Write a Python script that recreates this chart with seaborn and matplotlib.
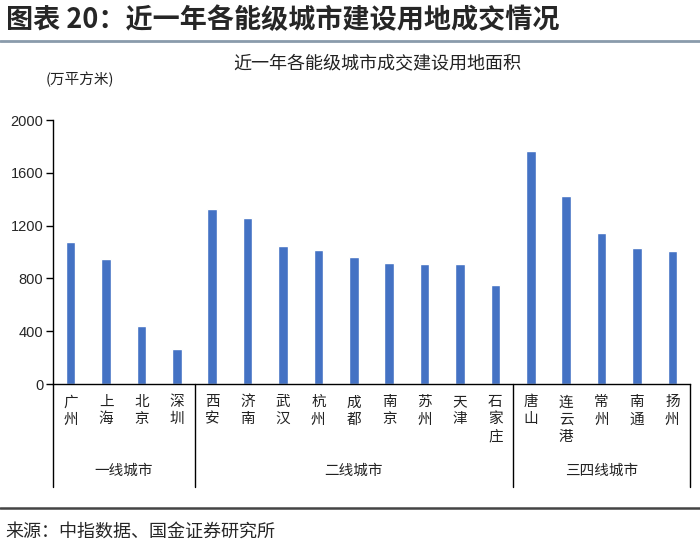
import matplotlib
matplotlib.use("Agg")
import matplotlib.pyplot as plt
import seaborn as sns
import pandas as pd

# data
cities = ["广州", "上海", "北京", "深圳",
          "西安", "济南", "武汉", "杭州", "成都", "南京", "苏州", "天津", "石家庄",
          "唐山", "连云港", "常州", "南通", "扬州"]
tiers = ["一线城市"] * 4 + ["二线城市"] * 9 + ["三四线城市"] * 5
area = [1073, 947, 442, 263,
        1328, 1255, 1045, 1017, 964, 919, 907, 907, 750,
        1765, 1427, 1141, 1028, 1008]
yticks = [0, 400, 800, 1200, 1600, 2000]

df = pd.DataFrame({"city": cities, "tier": tiers, "area": area})

sns.set_theme(style="white")
plt.rcParams["font.family"] = ["Liberation Sans", "Noto Sans CJK SC", "DejaVu Sans"]
CJK = ["Noto Sans CJK SC", "DejaVu Sans"]

W, H = 700, 546
fig = plt.figure(figsize=(W / 100, H / 100), dpi=100)
ax = fig.add_axes([53 / W, 1 - 384 / H, 637 / W, 264 / H])

sns.barplot(data=df, x="city", y="area", color="#4472C4", width=0.27,
            saturation=1, ax=ax)

ax.set_ylim(0, 2000)
ax.set_yticks(yticks)
ax.set_yticklabels([str(t) for t in yticks], fontsize=10.5)
ax.tick_params(axis="y", direction="out", length=5, width=1, color="black", pad=2, left=True)
ax.tick_params(axis="x", bottom=False, labelbottom=False)
ax.set_xlabel("")
ax.set_ylabel("")
for s in ["top", "right"]:
    ax.spines[s].set_visible(False)
for s in ["left", "bottom"]:
    ax.spines[s].set_color("black")
    ax.spines[s].set_linewidth(1)

# vertical category labels
xt = ax.get_xaxis_transform()
for i, name in enumerate(cities):
    ax.text(i, -0.043, "\n".join(name), transform=xt, ha="center", va="top",
            fontsize=10.5, family=CJK, linespacing=1.28, color="#222222")

# group separators and group labels
bounds = [-0.5]
for i in range(1, len(tiers)):
    if tiers[i] != tiers[i - 1]:
        bounds.append(i - 0.5)
bounds.append(len(tiers) - 0.5)
for b in bounds:
    ax.plot([b, b], [0, -0.39], transform=xt, color="black", lw=1, clip_on=False)
groups = list(dict.fromkeys(tiers))
for g, lo, hi in zip(groups, bounds[:-1], bounds[1:]):
    ax.text((lo + hi) / 2, -0.33, g, transform=xt, ha="center", va="center",
            fontsize=10.5, family=CJK, color="#222222")
ax.set_xlim(-0.5, len(cities) - 0.5)

# titles and notes
fig.text(6 / W, 1 - 20 / H, "图表 20：近一年各能级城市建设用地成交情况", fontsize=19.5,
         fontweight="bold", family=CJK, va="center", ha="left")
fig.add_artist(plt.Line2D([0, 1], [1 - 40.5 / H] * 2, color="#8a9bab", lw=2))
fig.text(377 / W, 1 - 64 / H, "近一年各能级城市成交建设用地面积", fontsize=13,
         family=CJK, ha="center", va="center", color="#222222")
fig.text(80 / W, 1 - 79 / H, "(万平方米)", fontsize=10.5, family=CJK,
         ha="center", va="center", color="#222222")
fig.add_artist(plt.Line2D([0, 1], [1 - 508 / H] * 2, color="#444444", lw=1.8))
fig.text(5 / W, 1 - 532 / H, "来源：中指数据、国金证券研究所", fontsize=13,
         family=CJK, ha="left", va="center")

fig.savefig("out.png", dpi=100)
